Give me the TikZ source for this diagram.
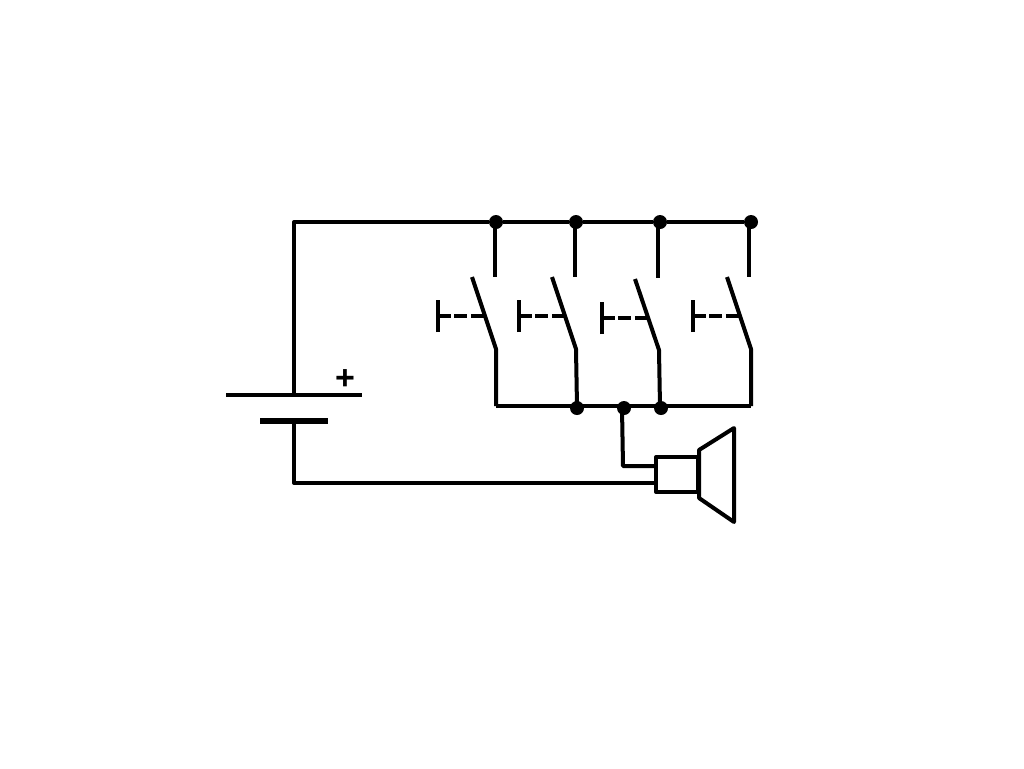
\documentclass[tikz,border=0pt]{standalone}
\usepackage{fontspec}
\setmainfont{Liberation Sans}
\tikzstyle{wire}=[line width=2pt,line join=round]
\tikzstyle{dot}=[circle,fill=black,minimum size=7pt,inner sep=0pt]
\tikzstyle{cell}=[wire,line width=3pt]
\begin{document}
\begin{tikzpicture}[x=0.5pt,y=-0.5pt]
    \useasboundingbox (0,0) rectangle (1024,768);
    \fill[white] (0,0) rectangle (1024,768);
    % battery
    \coordinate (c1) at (294,222);
    \coordinate (c2) at (294,395);
    \coordinate (c3) at (294,421);
    \coordinate (c4) at (294,483);
    \coordinate (pl) at (226,395);
    \coordinate (pr) at (362,395);
    \coordinate (ql) at (260,421);
    \coordinate (qr) at (328,421);
    \node[inner sep=0pt,font=\bfseries\fontsize{17}{17}\selectfont] (plus) at (345,380) {+};
    % junctions
    \node[dot] (t1) at (496,222) {};
    \node[dot] (t2) at (576,222) {};
    \node[dot] (t3) at (660,222) {};
    \node[dot] (t4) at (751,222) {};
    \node[dot] (b2) at (577,408) {};
    \node[dot] (b5) at (624,408) {};
    \node[dot] (b3) at (661,408) {};
    \coordinate (b1) at (496,406);
    \coordinate (b4) at (751,406);
    \coordinate (m2) at (577,406);
    \coordinate (m3) at (660,406);
    % speaker
    \coordinate (s1) at (656,457);
    \coordinate (s2) at (698,492);
    \coordinate (s3) at (656,466);
    \coordinate (s4) at (656,483);
    \coordinate (k0) at (622,408);
    \coordinate (k1) at (623,466);
    \draw[wire] (s1) rectangle (s2);
    \draw[wire] (699,450) -- (734,428) -- (734,522) -- (699,498) -- cycle;
    % wires
    \draw[wire] (c2) -- (c1) -- (t1) -- (t2) -- (t3) -- (t4);
    \draw[wire] (pl) -- (pr);
    \draw[cell] (ql) -- (qr);
    \draw[wire] (c3) -- (c4) -- (s4);
    \draw[wire] (b1) -- (m2) -- (m3) -- (b4);
    \draw[wire] (k0) -- (k1) -- (s3);
    % switches
    \foreach \n/\xd/\xa/\ya/\xb/\yb/\xc/\yc/\xe/\ye/\xf in
      {1/495/472/277/496/349/438/316/484/277/496,
       2/575/552/277/576/349/519/316/564/277/577,
       3/658/635/279/659/350/602/318/647/278/660,
       4/749/727/277/751/349/693/316/739/277/751}
    {
        \coordinate (d\n) at (\xd,\ye);
        \coordinate (u\n) at (\xa,\ya);
        \coordinate (v\n) at (\xb,\yb);
        \coordinate (w\n) at (\xf,406);
        \coordinate (h\n) at (\xc,\yc);
        \coordinate (j\n) at (\xe,\yc);
        \draw[wire] (\xd,222) -- (d\n);
        \draw[wire] (u\n) -- (v\n) -- (w\n);
        \draw[wire] ([yshift=-8pt]h\n) -- ([yshift=8pt]h\n);
        \draw[wire,dash pattern=on 6.5pt off 1.7pt] (h\n) -- (j\n);
    }
\end{tikzpicture}
\end{document}
